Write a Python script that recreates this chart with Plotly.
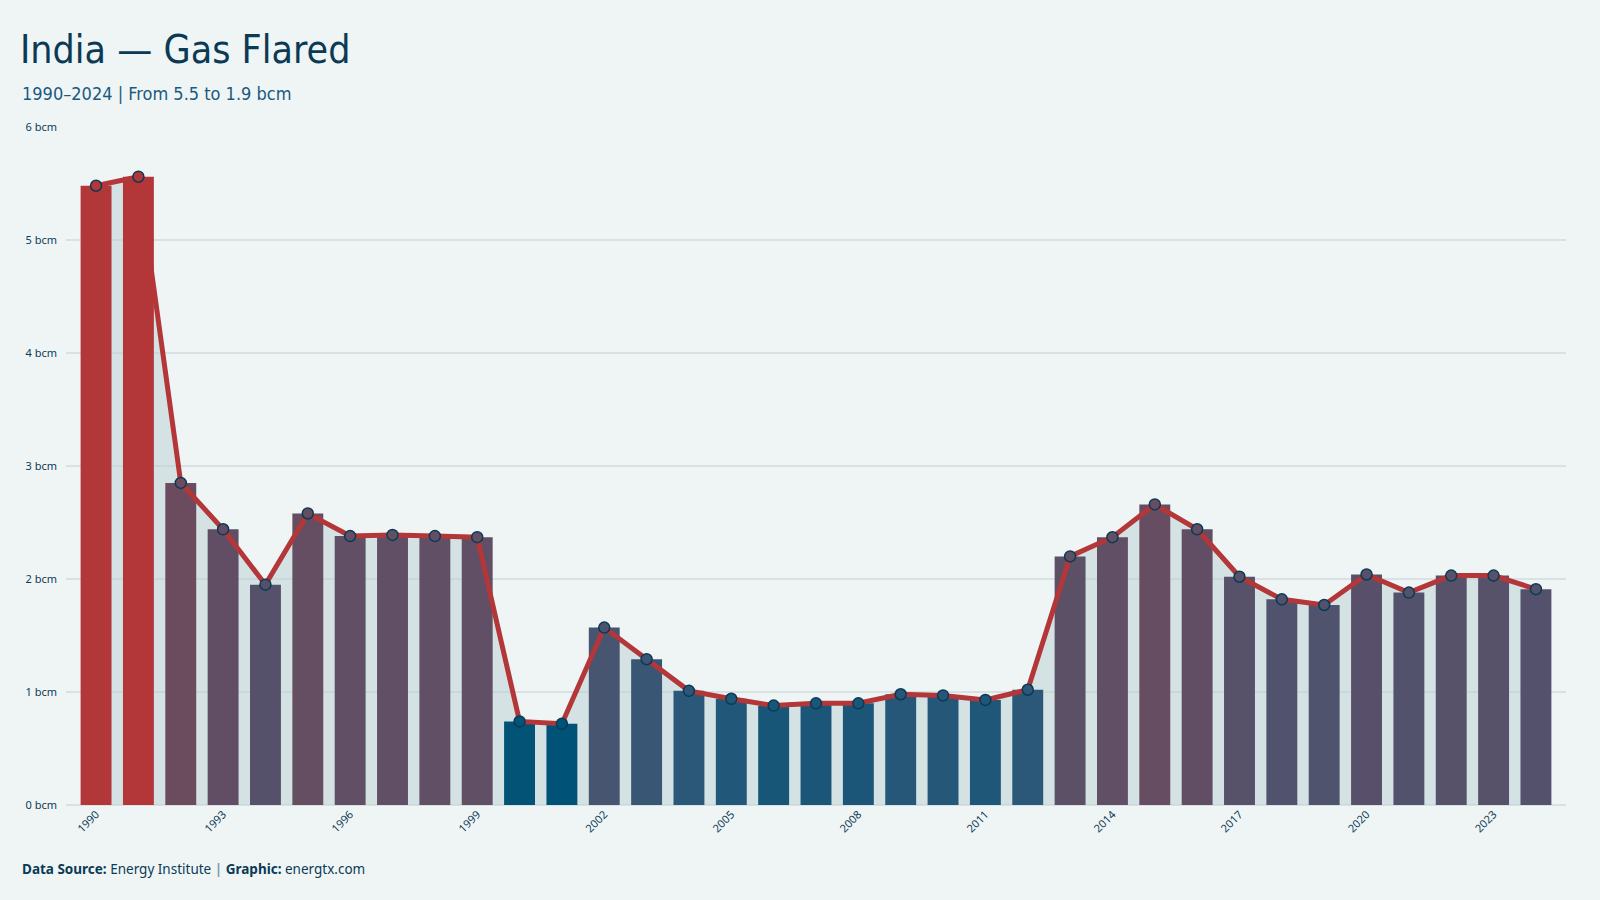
import plotly.graph_objects as go

years = list(range(1990, 2025))
values = [5.48, 5.56, 2.85, 2.44, 1.95, 2.58, 2.38, 2.39, 2.38, 2.37,
          0.74, 0.72, 1.57, 1.29, 1.01, 0.94, 0.88, 0.90, 0.90, 0.98,
          0.97, 0.93, 1.02, 2.20, 2.37, 2.66, 2.44, 2.02, 1.82, 1.77,
          2.04, 1.88, 2.03, 2.03, 1.91]
tick_years = list(range(1990, 2025, 3))
y_ticks = [0, 1, 2, 3, 4, 5, 6]

BG = "#eff5f5"
NAVY = "#0b3a55"
RED = "#b33638"

vmin, vmax = min(values), max(values)
colorscale = [
    [0.0, "#005377"],
    [0.06, "#2b5878"],
    [0.176, "#475570"],
    [0.254, "#56516b"],
    [0.44, "#6b4c5e"],
    [1.0, RED],
]

fig = go.Figure()

# area fill under the line (base subplot, below bars)
fig.add_trace(go.Scatter(
    x=years, y=values, mode="none", fill="tozeroy",
    fillcolor="rgba(182,203,208,0.45)", hoverinfo="skip",
    xaxis="x", yaxis="y", showlegend=False,
))

fig.add_trace(go.Bar(
    x=years, y=values,
    marker=dict(color=values, colorscale=colorscale, cmin=vmin, cmax=vmax,
                line=dict(width=0)),
    xaxis="x", yaxis="y2", showlegend=False,
))

fig.add_trace(go.Scatter(
    x=years, y=values, mode="lines+markers",
    line=dict(color=RED, width=5),
    marker=dict(size=11, color=values, colorscale=colorscale, cmin=vmin, cmax=vmax,
                line=dict(color=NAVY, width=1.5)),
    xaxis="x", yaxis="y2", showlegend=False,
))

tickfont = dict(family="Noto Sans, Open Sans, sans-serif", size=11, color=NAVY)
cond = "Ubuntu Condensed, Liberation Sans Narrow, DejaVu Sans Condensed, Noto Sans, sans-serif"

fig.update_layout(
    width=1600, height=900,
    paper_bgcolor=BG, plot_bgcolor=BG,
    margin=dict(l=66, r=34, t=127, b=95),
    bargap=0.27,
    xaxis=dict(
        range=[1989.29, 2024.71],
        tickmode="array", tickvals=tick_years, ticktext=[str(y) for y in tick_years],
        tickangle=-45, tickfont=tickfont, showgrid=False, zeroline=False,
        showline=False, ticks="",
    ),
    yaxis=dict(
        range=[0, 6], tickmode="array", tickvals=y_ticks,
        ticktext=[f"{v} bcm" for v in y_ticks], tickfont=tickfont,
        showgrid=True, gridcolor="#d8e2e4", gridwidth=1.5,
        zeroline=True, zerolinecolor="#d8e2e4", zerolinewidth=2,
        ticklabelstandoff=8,
    ),
    yaxis2=dict(
        range=[0, 6], overlaying="y", showgrid=False, zeroline=False,
        showticklabels=False,
    ),
    title=dict(
        text="India — Gas Flared",
        x=20 / 1600, xanchor="left", xref="container",
        y=1 - 49 / 900, yanchor="middle", yref="container",
        font=dict(family=cond, size=39, color=NAVY),
    ),
    annotations=[
        dict(
            text="1990–2024 | From 5.5 to 1.9 bcm",
            xref="paper", yref="paper", x=(20 - 66) / 1500, y=(805 - 93) / 678,
            xanchor="left", yanchor="middle", showarrow=False,
            font=dict(family=cond, size=18, color="#1a5a80"),
        ),
        dict(
            text="<b>Data Source:</b> Energy Institute <span style='color:#7f98a8'><b>|</b></span> <b>Graphic:</b> energtx.com",
            xref="paper", yref="paper", x=(20 - 66) / 1500, y=(805 - 869) / 678,
            xanchor="left", yanchor="middle", showarrow=False,
            font=dict(family="Noto Sans, Open Sans, sans-serif", size=13.5, color=NAVY),
        ),
    ],
)

fig.write_html("out.html")
